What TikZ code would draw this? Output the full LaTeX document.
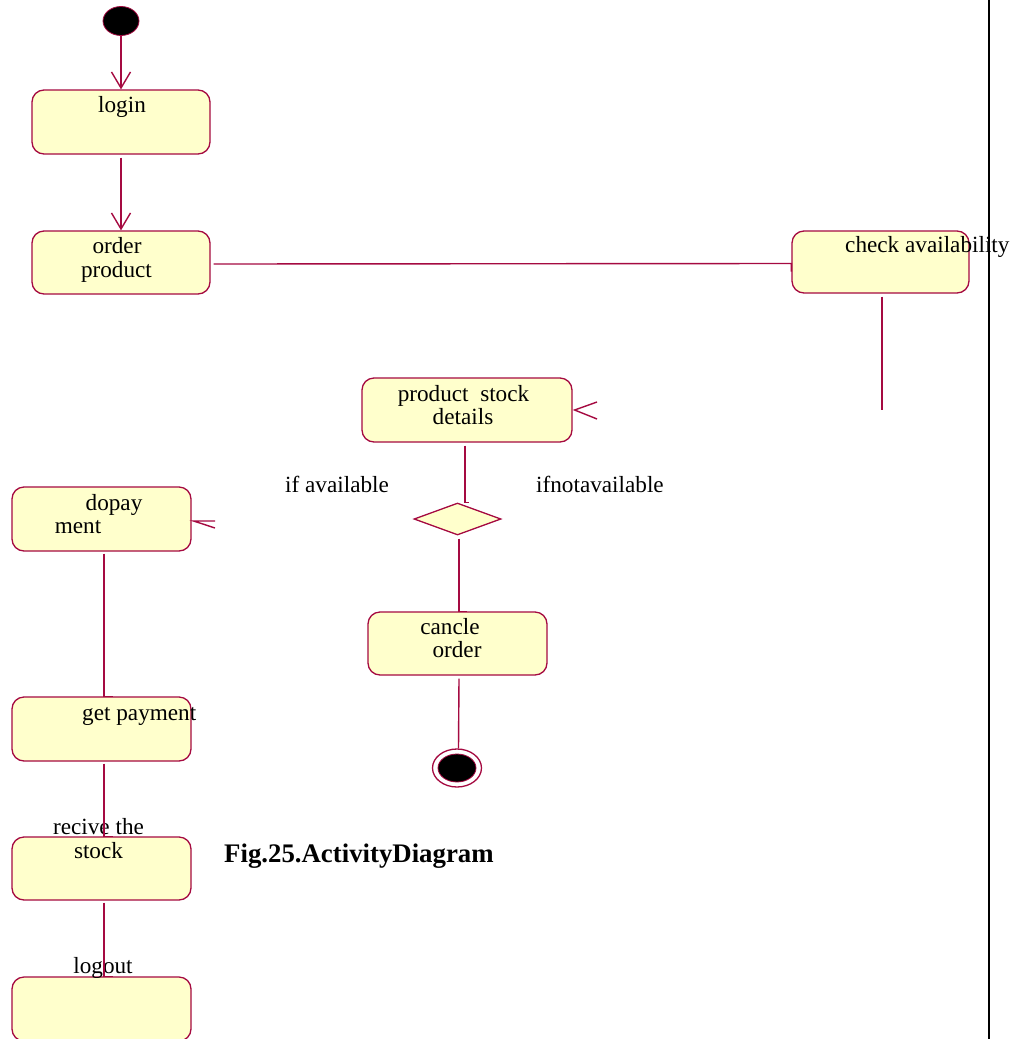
\documentclass[tikz,border=0pt]{standalone}
\usepackage{fontspec}
\setmainfont{Liberation Serif}
\usetikzlibrary{arrows.meta,shapes.geometric}
\definecolor{edge}{RGB}{165,10,65}
\definecolor{actfill}{RGB}{255,255,204}
\begin{document}
\begin{tikzpicture}[x=1pt,y=-1pt,
  act/.style={draw=edge, fill=actfill, line width=1.3pt, rounded corners=12pt,
    inner sep=0pt, minimum width=178pt, minimum height=63pt},
  flow/.style={draw=edge, line width=1.4pt},
  arr/.style={flow, -{Straight Barb[length=16pt,width=19pt,line width=1.4pt]}},
  lbl/.style={anchor=base, inner sep=0pt, font=\fontsize{23.2}{28}\selectfont},
  figcaption/.style={anchor=base west, inner sep=0pt, font=\fontsize{26.8}{32}\selectfont\bfseries},
]
\useasboundingbox (0,0) rectangle (1022,1039);
\fill[white] (0,0) rectangle (1022,1039);

% activity boxes
\node[act, minimum height=64pt] (login) at (121,122) {};
\node[act] (order) at (121,262.5) {};
\node[act, minimum width=177pt, minimum height=62pt] (check) at (880.5,262) {};
\node[act, minimum width=210pt, minimum height=64pt] (stock) at (467,410) {};
\node[diamond, draw=edge, fill=actfill, line width=1.3pt, inner sep=0pt,
  minimum width=87pt, minimum height=32pt] (dec) at (457.5,519) {};
\node[act, minimum width=179pt] (cancel) at (457.5,643.5) {};
\node[act, minimum width=179pt, minimum height=64pt] (dopay) at (101.5,519) {};
\node[act, minimum width=179pt, minimum height=64pt] (getpay) at (101.5,729) {};
\node[act, minimum width=179pt] (recv) at (101.5,868.5) {};
\node[act, minimum width=179pt, minimum height=64pt] (logout) at (101.5,1009) {};

% initial and final states
\node[ellipse, fill=black, draw=edge, line width=0.8pt, inner sep=0pt,
  minimum width=36pt, minimum height=29pt] (start) at (121,21) {};
\node[ellipse, fill=white, draw=edge, line width=1.3pt, inner sep=0pt,
  minimum width=49pt, minimum height=38pt] (end) at (457,768) {};
\node[ellipse, fill=black, draw=edge, line width=0.8pt, inner sep=0pt,
  minimum width=38pt, minimum height=28pt] (endcore) at (end) {};

% texts
\node[lbl] at (122,112) {login};
\node[lbl] at (117,253) {order};
\node[lbl] at (116.5,277) {product};
\node[lbl, anchor=base west] at (845,252) {check availability};
\node[lbl] at (463.5,401) {product\ \ stock};
\node[lbl] at (463,424) {details};
\node[lbl, anchor=base west] at (285,492) {if available};
\node[lbl, anchor=base west] at (536,492) {ifnotavailable};
\node[lbl] at (450,634) {cancle};
\node[lbl] at (457,657) {order};
\node[lbl] at (114,510) {dopay};
\node[lbl] at (78,533) {ment};
\node[lbl, anchor=base west] at (82,720) {get payment};
\node[lbl] at (98.5,834) {recive the};
\node[lbl] at (98.5,858) {stock};
\node[lbl] at (103,973) {logout};
\node[figcaption] at (224,862) {Fig.25.ActivityDiagram};

% connectors
\draw[arr] (start) -- (login);
\draw[arr] ([yshift=-3pt]login.south) -- (order.north);
\draw[flow] ([xshift=3pt,yshift=-1.5pt]order.east) -- ([yshift=-1.5pt]check.west) -- ++(0,8);
\coordinate (cdrop) at (882,410);
\draw[flow] ([xshift=1.5pt,yshift=-3pt]check.south) -- (cdrop);
\draw[flow] (597,402) -- ([xshift=2pt]stock.east) -- (597,419);
\draw[flow] ([xshift=-2pt,yshift=-3pt]stock.south) |- ([xshift=7.5pt]dec.north) -- ++(4,0);
\draw[flow] ([xshift=1.5pt,yshift=-3pt]dec.south) -- ([xshift=1.5pt]cancel.north) -- ++(8,0);
\draw[flow] ([xshift=1.5pt,yshift=-3pt]cancel.south) -- ([xshift=1.5pt]end.north);
\draw[flow] (215,521) -- ([xshift=2pt,yshift=-2pt]dopay.east) -- (215,528);
\draw[flow] ([xshift=2.5pt,yshift=-2pt]dopay.south) -- ([xshift=2.5pt]getpay.north) -- ++(9,0);
\draw[flow] ([xshift=2.5pt,yshift=-2pt]getpay.south) -- ([xshift=2.5pt]recv.north) -- ++(9,0);
\draw[flow] ([xshift=2.5pt,yshift=-2pt]recv.south) -- ([xshift=2.5pt]logout.north) -- ++(9,0);

% page rule
\draw[line width=2.5pt] (989,0) -- (989,1039);
\end{tikzpicture}
\end{document}
